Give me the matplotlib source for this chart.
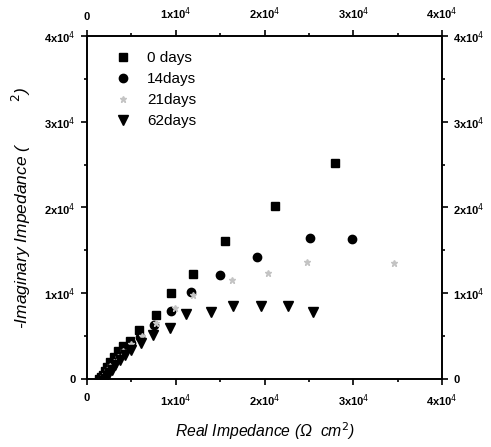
import matplotlib
matplotlib.use("Agg")
import matplotlib.pyplot as plt
from matplotlib.ticker import MultipleLocator, FuncFormatter

plt.rcParams['font.family'] = ['Liberation Sans', 'DejaVu Sans']

# data in units of 1e4 Ohm cm^2
d0_x = [0.14, 0.16, 0.18, 0.20, 0.23, 0.26, 0.30, 0.35, 0.41, 0.49, 0.59, 0.775, 0.95, 1.19, 1.55, 2.12, 2.79]
d0_y = [0.00, 0.02, 0.05, 0.09, 0.14, 0.20, 0.26, 0.33, 0.39, 0.447, 0.57, 0.747, 1.007, 1.225, 1.61, 2.02, 2.52]

d14_x = [0.15, 0.17, 0.19, 0.21, 0.24, 0.27, 0.31, 0.36, 0.42, 0.50, 0.60, 0.755, 0.95, 1.17, 1.50, 1.91, 2.51, 2.985]
d14_y = [0.00, 0.02, 0.05, 0.09, 0.13, 0.18, 0.24, 0.30, 0.36, 0.42, 0.49, 0.63, 0.79, 1.02, 1.21, 1.42, 1.645, 1.63]

d21_x = [0.16, 0.18, 0.20, 0.23, 0.26, 0.30, 0.35, 0.41, 0.50, 0.615, 0.78, 0.99, 1.19, 1.63, 2.04, 2.48, 3.46]
d21_y = [0.00, 0.03, 0.06, 0.10, 0.15, 0.20, 0.26, 0.33, 0.41, 0.50, 0.65, 0.825, 0.98, 1.15, 1.24, 1.36, 1.35]

d62_x = [0.18, 0.20, 0.22, 0.25, 0.28, 0.32, 0.37, 0.43, 0.50, 0.607, 0.745, 0.93, 1.11, 1.40, 1.64, 1.955, 2.27, 2.55]
d62_y = [-0.02, 0.00, 0.03, 0.07, 0.11, 0.16, 0.22, 0.28, 0.34, 0.416, 0.51, 0.60, 0.76, 0.78, 0.85, 0.85, 0.85, 0.785]

labels = ['0 days', '14days', '21days', '62days']
scale = 1e4

fig = plt.figure(figsize=(4.91, 4.47), dpi=100)
ax = fig.add_axes([87/491, 1 - 379/447, (442-87)/491, (379-36)/447])

ax.plot([v*scale for v in d0_x], [v*scale for v in d0_y], 's', color='black', ms=6, ls='none', label=labels[0])
ax.plot([v*scale for v in d14_x], [v*scale for v in d14_y], 'o', color='black', ms=6, ls='none', label=labels[1])
ax.plot([v*scale for v in d21_x], [v*scale for v in d21_y], '*', color='#c4c4c4', ms=4.5, ls='none', label=labels[2])
ax.plot([v*scale for v in d62_x], [v*scale for v in d62_y], 'v', color='black', ms=6.5, ls='none', label=labels[3])

ax.set_xlim(0, 4e4)
ax.set_ylim(0, 4e4)

def fmt(v, pos):
    n = int(round(v / 1e4))
    if n == 0:
        return '0'
    return r'%dx10$^{4}$' % n

for a in [ax.xaxis, ax.yaxis]:
    a.set_major_locator(MultipleLocator(1e4))
    a.set_minor_locator(MultipleLocator(0.5e4))
    a.set_major_formatter(FuncFormatter(fmt))

ax.tick_params(which='both', direction='out', top=True, right=True,
               labeltop=True, labelright=True, width=1.2)
ax.tick_params(which='major', length=4, labelsize=8, pad=4)
ax.tick_params(axis='x', which='major', pad=6)
ax.tick_params(which='minor', length=2)
for lab in ax.get_xticklabels() + ax.get_yticklabels():
    lab.set_fontweight('bold')

for s in ax.spines.values():
    s.set_linewidth(1.4)

ax.set_xlabel('Real Impedance (\u03a9  cm$^{2}$)', fontsize=11.3, style='italic', labelpad=8)
ax.set_ylabel('-Imaginary Impedance (         $^{2}$)', fontsize=12.5, style='italic', labelpad=8)

leg = ax.legend(loc='upper left', frameon=False, fontsize=11, labelspacing=0.45,
                handletextpad=0.6, borderaxespad=0.6, bbox_to_anchor=(0.015, 1.0))

fig.savefig('out.png', dpi=100)
